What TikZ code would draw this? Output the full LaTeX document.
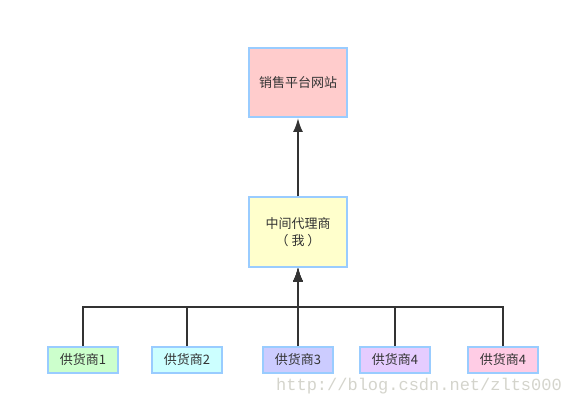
\documentclass[tikz,border=0pt]{standalone}
\usepackage{fontspec}
\newfontfamily\cjk{Noto Sans CJK SC}
\newfontfamily\wmfont{Liberation Mono}
\usepackage{tikz}
\usetikzlibrary{arrows.meta,positioning}
\definecolor{boxline}{HTML}{99CCFF}
\definecolor{linecol}{HTML}{333333}
\definecolor{wmgray}{HTML}{D4D4CC}
\definecolor{sitefill}{HTML}{FFCCCC}
\definecolor{agentfill}{HTML}{FFFFCC}
\definecolor{supA}{HTML}{CCFFCC}
\definecolor{supB}{HTML}{CCFFFF}
\definecolor{supC}{HTML}{CCCCFF}
\definecolor{supD}{HTML}{E5CCFF}
\definecolor{supE}{HTML}{FFCCE5}
\tikzset{>={Latex[length=14pt,width=10pt]}}
\tikzset{
  box/.style={draw=boxline,line width=2pt,inner sep=0pt,text=black!80,
    font=\cjk\fontsize{13}{17}\selectfont},
  bigbox/.style={box,minimum width=98pt,minimum height=69pt,align=center},
  supbox/.style={box,minimum width=70pt,minimum height=26pt},
  link/.style={draw=linecol,line width=2pt,->}
}

\begin{document}
\begin{tikzpicture}[x=1pt,y=-1pt]
                    \useasboundingbox (0,0) rectangle (570,406);
                    % platform and agent
                    \node[bigbox,fill=sitefill] (site) at (298,82.5) {销售平台网站};
                    \node[bigbox,fill=agentfill] (agent) at (298,232) {中间代理商\\（ 我 ）};
                    \coordinate (bus) at (298,307);

                    % suppliers
                    \node[supbox,fill=supA] (sup1) at (83,360) {供货商1};
                    \node[supbox,fill=supB] (sup2) at (187,360) {供货商2};
                    \node[supbox,fill=supC] (sup3) at (298,360) {供货商3};
                    \node[supbox,fill=supD] (sup4) at (395,360) {供货商4};
                    \node[supbox,fill=supE] (sup5) at (503,360) {供货商4};

                    \foreach \s in {sup1,sup2,sup3,sup4,sup5}
                        \draw[link] (\s.north) |- (bus) -- (agent.south);
                    \draw[link] (agent.north) -- (site.south);

                    % watermark
                    \node[text=wmgray,font=\wmfont\fontsize{17}{17}\selectfont,inner sep=0pt] (wm) at (419,386) {http://blog.csdn.net/zlts000};
                \end{tikzpicture}
\end{document}
